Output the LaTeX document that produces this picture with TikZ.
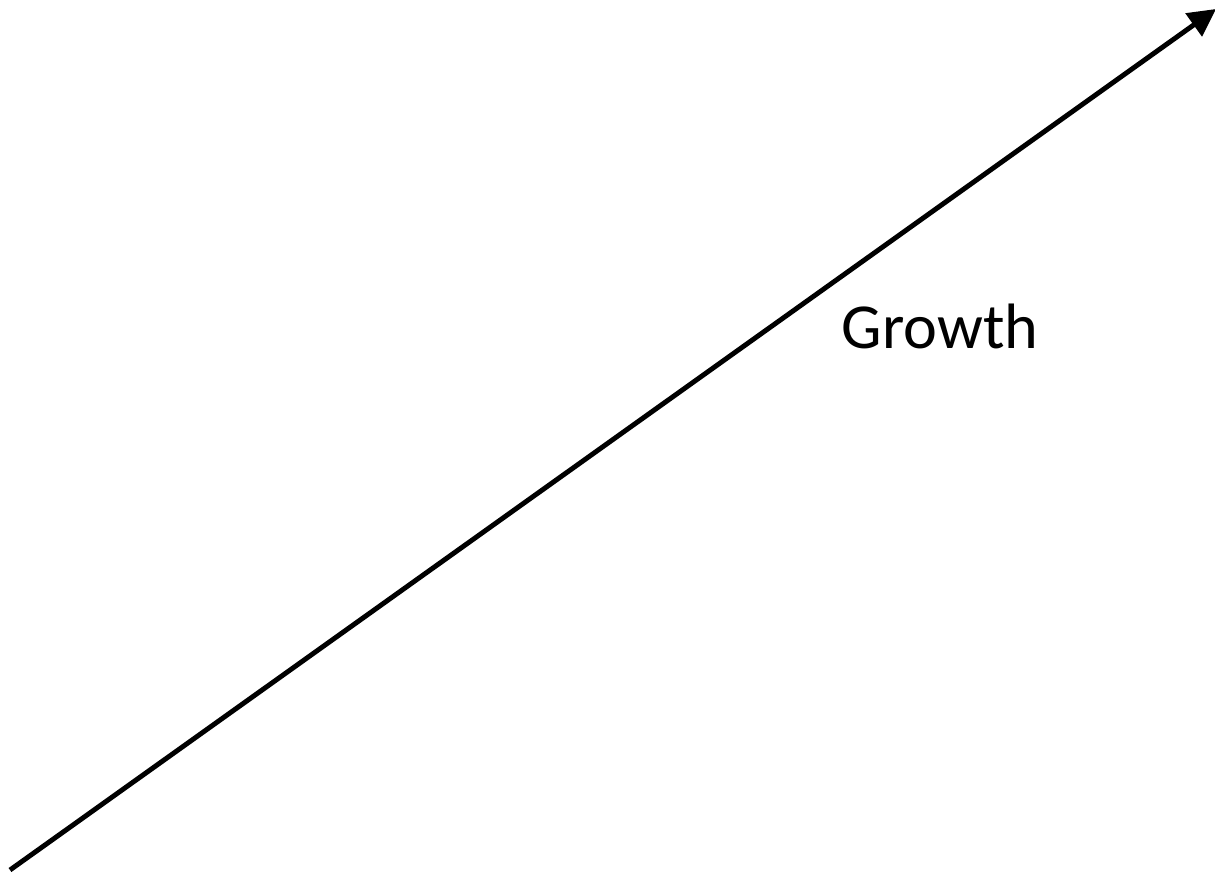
\documentclass[tikz,border=0pt]{standalone}
\usepackage{fontspec}
\setmainfont{Carlito}
\usetikzlibrary{arrows.meta}
\begin{document}
\begin{tikzpicture}
\useasboundingbox (0,0) rectangle (24.3,-17.5);
% --- axis ---
\coordinate (start) at (0.20,-17.40);
\coordinate (tip) at (24.32,-0.18);
\draw[line width=2.8pt,-{Triangle[length=0.55cm,width=0.55cm]}] (start) -- (tip);
% --- label ---
\node[font=\fontsize{36.5}{42}\selectfont] (growth) at (18.80,-6.52) {Growth};
\end{tikzpicture}
\end{document}
